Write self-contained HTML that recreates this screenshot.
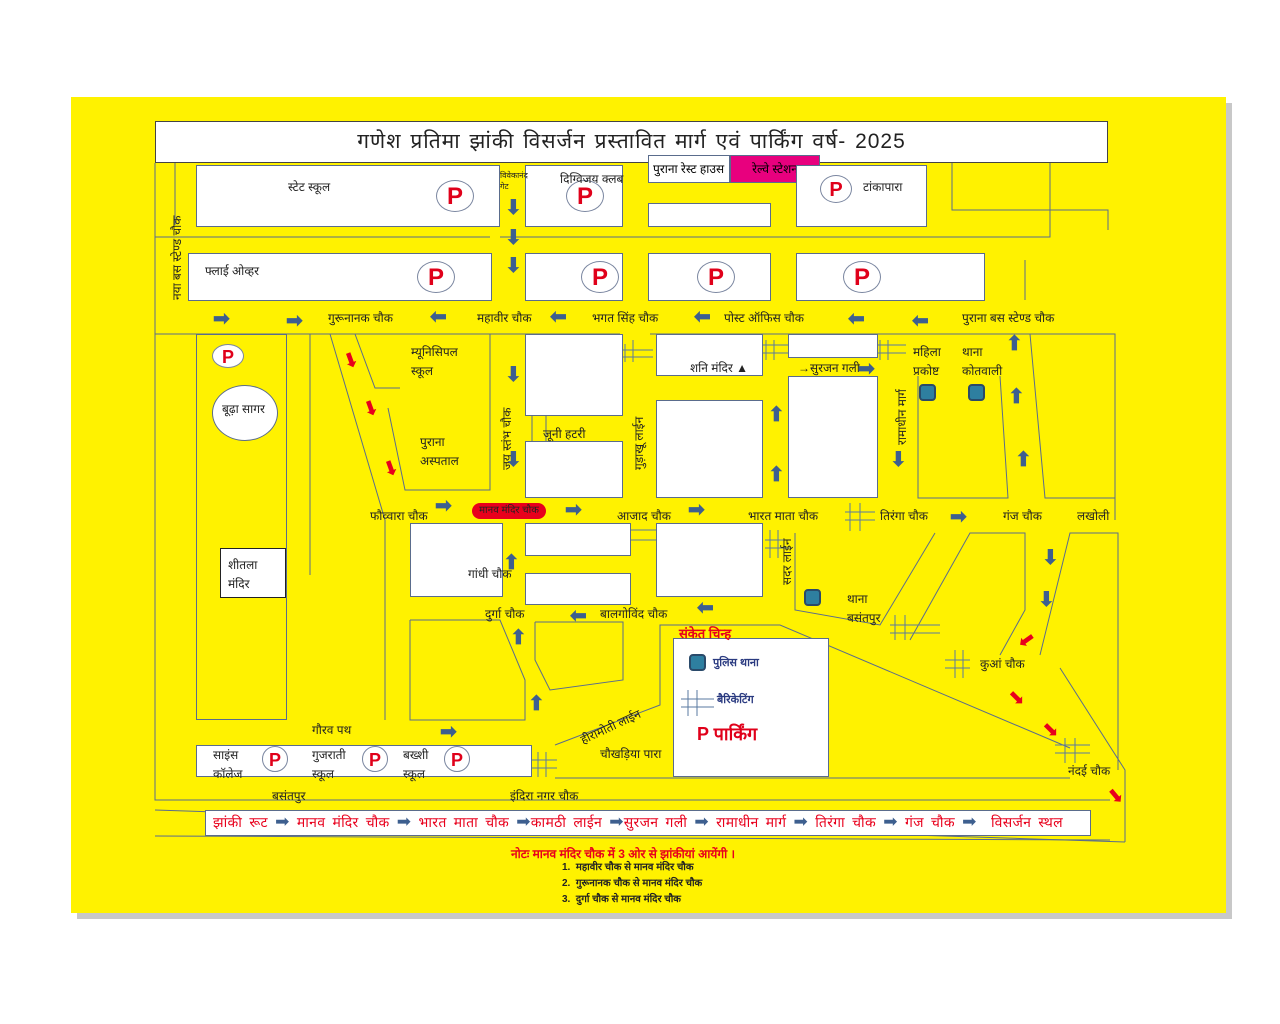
<!DOCTYPE html><html><head><meta charset="utf-8"><style>
body{margin:0;width:1280px;height:1024px;background:#fff;position:relative;overflow:hidden;font-family:"Liberation Sans",sans-serif;}
.y{position:absolute;left:71px;top:97px;width:1155px;height:816px;background:#fff200;box-shadow:6px 6px 0 #c8c8c8;}
.b{position:absolute;background:#fff;border:1px solid #5a6c8c;box-sizing:border-box;}
.t{position:absolute;font-size:12px;color:#222;white-space:nowrap;}
.p{position:absolute;width:38px;height:32px;border-radius:50%;background:#fff;border:1px solid #7a86a0;color:#e0001a;font-weight:bold;font-size:24px;text-align:center;line-height:32px;box-sizing:border-box;}
.a{position:absolute;color:#3d5f8f;font-size:20px;line-height:20px;font-weight:bold;}
.r{position:absolute;color:#e8001c;font-size:20px;line-height:20px;}
.st{position:absolute;width:17px;height:17px;background:#2e7fa0;border:2px solid #2a4a6a;border-radius:4px;box-sizing:border-box;}
svg{position:absolute;left:0;top:0}
</style></head><body>
<div class="y"></div>
<svg width="1280" height="1024" fill="none" stroke="#5a6c8c" stroke-width="1">
<polyline points="155,163 155,800 1110,800"/>
<polyline points="155,237 490,237"/><polyline points="500,237 1050,237 1050,163"/>
<polyline points="155,334 620,334"/><polyline points="650,334 1115,334 1115,520"/>
<polyline points="175,163 175,225"/><polyline points="952,163 952,210 1108,210 1108,230"/>
<polyline points="1025,260 1025,300"/>
<line x1="310" y1="334" x2="310" y2="575"/><line x1="330" y1="334" x2="385" y2="520"/>
<polyline points="385,520 385,720"/><polyline points="355,334 375,388 400,388"/>
<polyline points="388,408 405,490 490,490 490,334 360,334"/>
<polyline points="410,620 410,720 525,720 525,680 500,620 410,620"/>
<polyline points="535,622 535,660 550,690 623,680 623,622 535,622"/>
<polyline points="555,745 660,705 660,625 780,625 1070,748"/>
<polyline points="795,533 795,610 880,625 935,533"/>
<polyline points="910,640 970,533 1025,533 1025,610 1000,655"/>
<polyline points="1040,655 1070,533 1118,533 1118,770"/>
<polyline points="1060,668 1125,770 1125,842"/>
<polyline points="918,376 918,498 1008,498 1000,376"/>
<polyline points="1030,334 1045,498 1115,498"/>
<line x1="532" y1="416" x2="532" y2="441"/><line x1="546" y1="416" x2="546" y2="441"/>
<line x1="155" y1="810" x2="1125" y2="842"/>
<line x1="155" y1="836" x2="1110" y2="840"/>
<line x1="555" y1="778" x2="1070" y2="778"/>
<g stroke="#5a7aa0"><path d="M625 344v18M633 340v22M621 350h32M621 357h32"/><path d="M766 340v20M774 340v20M762 345h30M762 353h30"/><path d="M880 340v20M888 340v20M876 345h30M876 353h30"/><path d="M850 503v28M860 503v28M845 512h30M845 520h30"/><path d="M770 530v28M778 530v28M765 540h25M765 548h25"/><path d="M895 615v25M905 615v25M890 625h50M890 633h50"/><path d="M955 650v28M963 650v28M945 660h25M945 668h25"/><path d="M1065 738v25M1075 738v25M1055 745h35M1055 753h35"/><path d="M538 752v25M546 752v25M532 760h25M532 768h25"/><path d="M620 530h45M620 540h45"/></g>
</svg>
<div class="b" style="left:155px;top:121px;width:953px;height:42px;border-color:#444;text-align:center;font-size:21px;letter-spacing:1px;word-spacing:2px;line-height:40px;color:#222">गणेश प्रतिमा झांकी विसर्जन प्रस्तावित मार्ग एवं पार्किंग वर्ष- 2025</div>
<div class="b" style="left:196px;top:165px;width:304px;height:62px"></div>
<div class="b" style="left:525px;top:165px;width:98px;height:62px"></div>
<div class="b" style="left:648px;top:155px;width:82px;height:28px;font-size:12px;line-height:26px;padding-left:4px">पुराना रेस्ट हाउस</div>
<div class="b" style="left:730px;top:155px;width:90px;height:28px;background:#e8007e;font-size:12px;line-height:26px;text-align:center">रेल्वे स्टेशन</div>
<div class="b" style="left:648px;top:203px;width:123px;height:24px"></div>
<div class="b" style="left:796px;top:165px;width:131px;height:62px"></div>
<div class="b" style="left:188px;top:253px;width:304px;height:48px"></div>
<div class="b" style="left:525px;top:253px;width:98px;height:48px"></div>
<div class="b" style="left:648px;top:253px;width:123px;height:48px"></div>
<div class="b" style="left:796px;top:253px;width:189px;height:48px"></div>
<div class="b" style="left:196px;top:334px;width:91px;height:386px;background:#fff200"></div>
<div class="b" style="left:212px;top:385px;width:66px;height:56px;border-radius:50%"></div>
<div class="b" style="left:220px;top:548px;width:66px;height:50px;border-color:#222"></div>
<div class="b" style="left:525px;top:334px;width:98px;height:82px"></div>
<div class="b" style="left:656px;top:334px;width:107px;height:42px"></div>
<div class="b" style="left:788px;top:334px;width:90px;height:24px"></div>
<div class="b" style="left:788px;top:376px;width:90px;height:122px"></div>
<div class="b" style="left:656px;top:400px;width:107px;height:98px"></div>
<div class="b" style="left:525px;top:441px;width:98px;height:57px"></div>
<div class="b" style="left:410px;top:523px;width:93px;height:74px"></div>
<div class="b" style="left:525px;top:523px;width:106px;height:33px"></div>
<div class="b" style="left:525px;top:573px;width:106px;height:32px"></div>
<div class="b" style="left:656px;top:523px;width:107px;height:74px"></div>
<div class="b" style="left:673px;top:638px;width:156px;height:139px"></div>
<div class="b" style="left:196px;top:745px;width:336px;height:32px"></div>
<div class="b" style="left:205px;top:810px;width:886px;height:26px"></div>
<div class="p" style="left:436px;top:180px">P</div><div class="p" style="left:566px;top:180px">P</div>
<div class="p" style="left:820px;top:175px;width:32px;height:28px;line-height:28px;font-size:20px">P</div>
<div class="p" style="left:417px;top:261px">P</div><div class="p" style="left:581px;top:261px">P</div>
<div class="p" style="left:697px;top:261px">P</div><div class="p" style="left:843px;top:261px">P</div>
<div class="p" style="left:212px;top:344px;width:32px;height:24px;line-height:24px;font-size:18px">P</div>
<div class="p" style="left:262px;top:746px;width:26px;height:26px;line-height:26px;font-size:18px">P</div>
<div class="p" style="left:362px;top:746px;width:26px;height:26px;line-height:26px;font-size:18px">P</div>
<div class="p" style="left:444px;top:746px;width:26px;height:26px;line-height:26px;font-size:18px">P</div>
<div class="t" style="left:288px;top:178px">स्टेट स्कूल</div>
<div class="t" style="left:560px;top:170px">दिग्विजय क्लब</div>
<div class="t" style="left:500px;top:170px;font-size:8px">विवेकानंद<br>गेट</div>
<div class="t" style="left:863px;top:178px">टांकापारा</div>
<div class="t" style="left:205px;top:262px">फ्लाई ओव्हर</div>
<div class="t" style="left:328px;top:309px">गुरूनानक चौक</div>
<div class="t" style="left:477px;top:309px">महावीर चौक</div>
<div class="t" style="left:592px;top:309px">भगत सिंह चौक</div>
<div class="t" style="left:724px;top:309px">पोस्ट ऑफिस चौक</div>
<div class="t" style="left:962px;top:309px">पुराना बस स्टेण्ड चौक</div>
<div class="t" style="left:168px;top:300px;transform:rotate(-90deg);transform-origin:left top">नया बस स्टेण्ड चौक</div>
<div class="t" style="left:411px;top:343px;line-height:19px">म्यूनिसिपल<br>स्कूल</div>
<div class="t" style="left:690px;top:359px">शनि मंदिर ▲</div>
<div class="t" style="left:798px;top:359px">→सुरजन गली</div>
<div class="t" style="left:913px;top:343px;line-height:19px">महिला<br>प्रकोष्ट</div>
<div class="t" style="left:962px;top:343px;line-height:19px">थाना<br>कोतवाली</div>
<div class="t" style="left:222px;top:400px">बूढ़ा सागर</div>
<div class="t" style="left:420px;top:433px;line-height:19px">पुराना<br>अस्पताल</div>
<div class="t" style="left:543px;top:425px">जूनी हटरी</div>
<div class="t" style="left:370px;top:507px">फौव्वारा चौक</div>
<div style="position:absolute;left:472px;top:503px;width:74px;height:16px;background:#e8001c;border-radius:8px;font-size:10px;text-align:center;line-height:16px;color:#222">मानव मंदिर चौक</div>
<div class="t" style="left:617px;top:507px">आजाद चौक</div>
<div class="t" style="left:748px;top:507px">भारत माता चौक</div>
<div class="t" style="left:880px;top:507px">तिरंगा चौक</div>
<div class="t" style="left:1003px;top:507px">गंज चौक</div>
<div class="t" style="left:1077px;top:507px">लखोली</div>
<div class="t" style="left:228px;top:556px;line-height:19px">शीतला<br>मंदिर</div>
<div class="t" style="left:468px;top:565px">गांधी चौक</div>
<div class="t" style="left:485px;top:605px">दुर्गा चौक</div>
<div class="t" style="left:600px;top:605px">बालगोविंद चौक</div>
<div class="t" style="left:847px;top:590px;line-height:19px">थाना<br>बसंतपुर</div>
<div class="t" style="left:980px;top:655px">कुआं चौक</div>
<div class="t" style="left:1068px;top:762px">नंदई चौक</div>
<div class="t" style="left:312px;top:721px">गौरव पथ</div>
<div class="t" style="left:600px;top:745px">चौखड़िया पारा</div>
<div class="t" style="left:213px;top:746px;line-height:19px">साइंस<br>कॉलेज</div>
<div class="t" style="left:312px;top:746px;line-height:19px">गुजराती<br>स्कूल</div>
<div class="t" style="left:403px;top:746px;line-height:19px">बख्शी<br>स्कूल</div>
<div class="t" style="left:272px;top:787px">बसंतपुर</div>
<div class="t" style="left:510px;top:787px">इंदिरा नगर चौक</div>
<div class="t" style="left:578px;top:718px;transform:rotate(-25deg)">हीरामोती लाईन</div>
<div class="t" style="left:498px;top:470px;transform:rotate(-90deg);transform-origin:left top">जय स्तंभ चौक</div>
<div class="t" style="left:630px;top:470px;transform:rotate(-90deg);transform-origin:left top">गुड़ाखू लाईन</div>
<div class="t" style="left:893px;top:445px;transform:rotate(-90deg);transform-origin:left top">रामाधीन मार्ग</div>
<div class="t" style="left:778px;top:585px;transform:rotate(-90deg);transform-origin:left top">सदर लाईन</div>
<div class="t" style="left:679px;top:624px;color:#e8001c;font-weight:bold;font-size:13px">संकेत चिन्ह</div>
<div class="st" style="left:689px;top:654px"></div><div class="t" style="left:713px;top:655px;color:#2a3a80;font-weight:bold;font-size:11px">पुलिस थाना</div>
<svg width="1280" height="1024"><g stroke="#5a7aa0"><path d="M688 690v26M697 690v26M681 699h33M681 707h33"/></g></svg>
<div class="t" style="left:717px;top:692px;color:#2a3a80;font-weight:bold;font-size:11px">बैरिकेटिंग</div>
<div class="t" style="left:697px;top:722px;color:#e0001a;font-size:18px;font-weight:bold">P पार्किंग</div>
<div class="st" style="left:919px;top:384px"></div><div class="st" style="left:968px;top:384px"></div><div class="st" style="left:804px;top:589px"></div>
<div class="t" style="left:213px;top:812px;color:#e8001c;font-size:14px;word-spacing:3px;letter-spacing:0.3px">झांकी रूट <span style="color:#3d5f8f;font-size:17px">➡</span> मानव मंदिर चौक <span style="color:#3d5f8f;font-size:17px">➡</span> भारत माता चौक <span style="color:#3d5f8f;font-size:17px">➡</span>कामठी लाईन <span style="color:#3d5f8f;font-size:17px">➡</span>सुरजन गली <span style="color:#3d5f8f;font-size:17px">➡</span> रामाधीन मार्ग <span style="color:#3d5f8f;font-size:17px">➡</span> तिरंगा चौक <span style="color:#3d5f8f;font-size:17px">➡</span> गंज चौक <span style="color:#3d5f8f;font-size:17px">➡</span> &nbsp;विसर्जन स्थल</div>
<div class="t" style="left:511px;top:845px;color:#e8001c;font-weight:bold">नोटः मानव मंदिर चौक में 3 ओर से झांकीयां आयेंगी ।</div>
<div class="t" style="left:562px;top:860px;font-size:10px;font-weight:bold;line-height:16px">1. &nbsp;महावीर चौक से मानव मंदिर चौक<br>2. &nbsp;गुरूनानक चौक से मानव मंदिर चौक<br>3. &nbsp;दुर्गा चौक से मानव मंदिर चौक</div>
<div class="a" style="left:213px;top:309px">➡</div><div class="a" style="left:286px;top:311px">➡</div>
<div class="a" style="left:430px;top:307px">⬅</div><div class="a" style="left:550px;top:307px">⬅</div><div class="a" style="left:694px;top:307px">⬅</div><div class="a" style="left:848px;top:309px">⬅</div><div class="a" style="left:912px;top:311px">⬅</div>
<div class="a" style="left:505px;top:198px">⬇</div><div class="a" style="left:505px;top:228px">⬇</div><div class="a" style="left:505px;top:256px">⬇</div>
<div class="a" style="left:505px;top:365px">⬇</div><div class="a" style="left:505px;top:450px">⬇</div>
<div class="a" style="left:435px;top:496px">➡</div><div class="a" style="left:565px;top:500px">➡</div><div class="a" style="left:688px;top:500px">➡</div>
<div class="a" style="left:950px;top:507px">➡</div><div class="a" style="left:858px;top:359px">➡</div>
<div class="a" style="left:768px;top:405px">⬆</div><div class="a" style="left:768px;top:465px">⬆</div>
<div class="a" style="left:890px;top:450px">⬇</div>
<div class="a" style="left:1006px;top:334px">⬆</div><div class="a" style="left:1008px;top:387px">⬆</div><div class="a" style="left:1015px;top:450px">⬆</div>
<div class="a" style="left:1042px;top:548px">⬇</div><div class="a" style="left:1038px;top:590px">⬇</div>
<div class="a" style="left:503px;top:553px">⬆</div><div class="a" style="left:510px;top:628px">⬆</div><div class="a" style="left:528px;top:694px">⬆</div>
<div class="a" style="left:570px;top:606px">⬅</div><div class="a" style="left:697px;top:598px">⬅</div>
<div class="a" style="left:440px;top:722px">➡</div>
<div class="r" style="left:342px;top:350px;transform:rotate(70deg)">➡</div>
<div class="r" style="left:362px;top:398px;transform:rotate(70deg)">➡</div>
<div class="r" style="left:382px;top:458px;transform:rotate(70deg)">➡</div>
<div class="r" style="left:1018px;top:630px;transform:rotate(145deg)">➡</div>
<div class="r" style="left:1008px;top:688px;transform:rotate(45deg)">➡</div>
<div class="r" style="left:1042px;top:720px;transform:rotate(45deg)">➡</div>
<div class="r" style="left:1107px;top:786px;transform:rotate(50deg)">➡</div>
</body></html>
